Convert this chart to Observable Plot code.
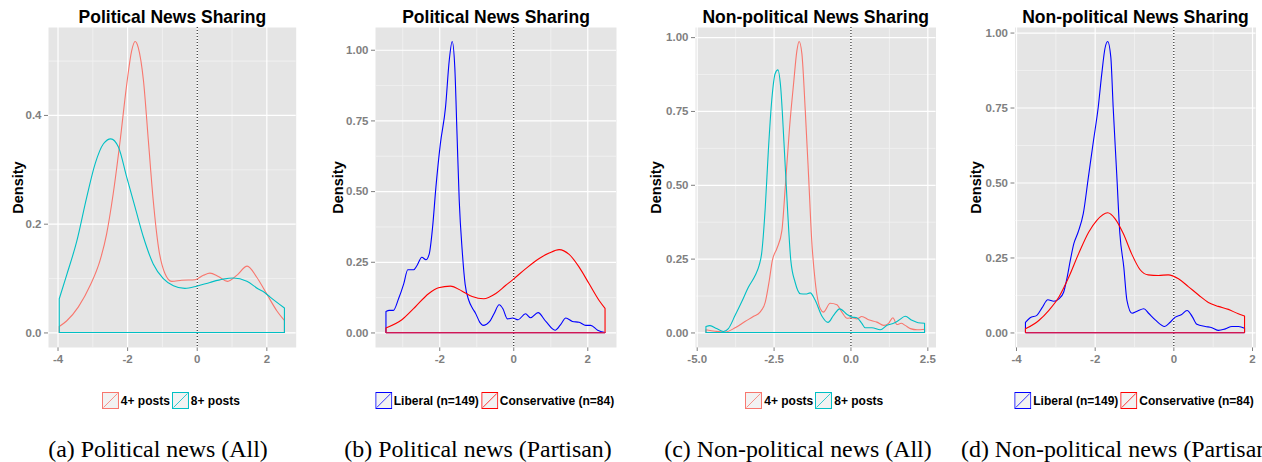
<!DOCTYPE html>
<html>
<head>
<meta charset="utf-8">
<script src="https://cdn.jsdelivr.net/npm/d3@7"></script>
<script src="https://cdn.jsdelivr.net/npm/@observablehq/plot@0.6"></script>
<style>
  html, body { margin: 0; padding: 0; background: #fff; }
  #page { position: relative; width: 1262px; height: 462px; overflow: hidden; background: #fff; }
  .panel { position: absolute; top: 0; }
  .legend { position: absolute; top: 392px; display: flex; align-items: center; transform: translateX(-50%);
            font: bold 12px "Liberation Sans", Arimo, Arial, sans-serif; color: #000; white-space: nowrap; }
  .legend .item { display: flex; align-items: center; margin-right: 2px; }
  .legend svg { display: block; margin-right: 2px; }
  #captions { position: absolute; left: 0; top: 0; }
</style>
</head>
<body>
<div id="page">
  <svg id="captions" width="1262" height="462"></svg>
</div>
<script>
// ---------- data ----------
// (a) Political news, all users
const polAll4X = [-3.95, -3.74, -3.40, -3.05, -2.78, -2.59, -2.40, -2.20, -2.01, -1.87, -1.77, -1.68, -1.53, -1.39, -1.25, -1.10, -0.91, -0.72, -0.43, -0.05, 0.19, 0.38, 0.62, 0.89, 1.15, 1.45, 1.72, 2.01, 2.30, 2.52];
const polAll4Y = [0.011, 0.021, 0.047, 0.088, 0.132, 0.181, 0.255, 0.353, 0.457, 0.518, 0.535, 0.524, 0.463, 0.353, 0.243, 0.157, 0.108, 0.094, 0.096, 0.097, 0.105, 0.109, 0.103, 0.094, 0.105, 0.122, 0.102, 0.071, 0.040, 0.022];
const polAll8X = [-3.95, -3.74, -3.45, -3.16, -2.92, -2.68, -2.47, -2.25, -2.01, -1.77, -1.53, -1.25, -0.96, -0.67, -0.34, 0.00, 0.38, 0.76, 1.05, 1.44, 1.77, 1.94, 2.11, 2.52];
const polAll8Y = [0.062, 0.105, 0.167, 0.249, 0.310, 0.347, 0.356, 0.341, 0.285, 0.230, 0.175, 0.126, 0.099, 0.086, 0.081, 0.085, 0.092, 0.098, 0.100, 0.094, 0.080, 0.074, 0.065, 0.045];

// (b) Political news, partisan users
const polLibX = [-3.44, -3.35, -3.24, -3.10, -2.96, -2.85, -2.69, -2.60, -2.47, -2.36, -2.27, -2.18, -2.09, -1.97, -1.83, -1.73, -1.65, -1.58, -1.52, -1.46, -1.38, -1.30, -1.20, -1.10, -1.02, -0.90, -0.82, -0.62, -0.52, -0.38, -0.28, -0.16, -0.01, 0.13, 0.33, 0.47, 0.67, 0.88, 1.13, 1.28, 1.42, 1.60, 1.78, 1.96, 2.09, 2.28, 2.48];
const polLibY = [0.074, 0.078, 0.078, 0.119, 0.172, 0.222, 0.222, 0.237, 0.266, 0.257, 0.278, 0.372, 0.514, 0.667, 0.797, 0.962, 1.029, 0.938, 0.703, 0.467, 0.290, 0.170, 0.113, 0.085, 0.068, 0.035, 0.025, 0.042, 0.066, 0.098, 0.084, 0.048, 0.051, 0.045, 0.066, 0.052, 0.070, 0.039, 0.008, 0.028, 0.051, 0.039, 0.036, 0.025, 0.025, 0.008, 0.000];
const polConX = [-3.44, -3.01, -2.65, -2.29, -2.02, -1.70, -1.38, -1.11, -0.80, -0.48, -0.21, 0.00, 0.33, 0.69, 0.97, 1.24, 1.51, 1.78, 2.05, 2.32, 2.48];
const polConY = [0.016, 0.045, 0.090, 0.137, 0.158, 0.164, 0.146, 0.127, 0.119, 0.137, 0.166, 0.188, 0.225, 0.261, 0.281, 0.293, 0.276, 0.231, 0.172, 0.113, 0.085];

// (c) Non-political news, all users
const nonAll4X = [-4.70, -4.40, -4.08, -3.75, -3.43, -3.16, -2.94, -2.77, -2.64, -2.54, -2.39, -2.23, -2.12, -1.98, -1.85, -1.74, -1.67, -1.58, -1.47, -1.36, -1.26, -1.15, -0.98, -0.88, -0.66, -0.44, -0.28, -0.11, 0.05, 0.21, 0.37, 0.59, 0.86, 1.08, 1.24, 1.38, 1.51, 1.65, 1.78, 1.95, 2.17, 2.41];
const nonAll4Y = [0.009, 0.004, 0.001, 0.016, 0.037, 0.054, 0.069, 0.103, 0.176, 0.244, 0.285, 0.345, 0.492, 0.695, 0.842, 0.955, 0.985, 0.944, 0.752, 0.526, 0.312, 0.176, 0.080, 0.069, 0.099, 0.094, 0.069, 0.048, 0.050, 0.046, 0.054, 0.043, 0.035, 0.024, 0.031, 0.050, 0.027, 0.031, 0.024, 0.013, 0.009, 0.011];
const nonAll8X = [-4.70, -4.57, -4.35, -4.13, -3.97, -3.75, -3.54, -3.32, -3.10, -2.97, -2.89, -2.77, -2.67, -2.56, -2.45, -2.36, -2.27, -2.16, -2.05, -1.94, -1.80, -1.63, -1.45, -1.31, -1.15, -0.93, -0.73, -0.55, -0.35, -0.11, 0.05, 0.21, 0.37, 0.48, 0.70, 0.97, 1.19, 1.40, 1.57, 1.78, 2.00, 2.20, 2.41];
const nonAll8Y = [0.020, 0.023, 0.013, 0.003, 0.013, 0.058, 0.103, 0.153, 0.193, 0.227, 0.266, 0.424, 0.616, 0.786, 0.876, 0.889, 0.831, 0.639, 0.424, 0.244, 0.170, 0.131, 0.130, 0.134, 0.110, 0.056, 0.034, 0.058, 0.080, 0.061, 0.052, 0.050, 0.031, 0.016, 0.016, 0.009, 0.024, 0.031, 0.041, 0.055, 0.041, 0.033, 0.031];

// (d) Non-political news, partisan users
const nonLibX = [-3.76, -3.64, -3.47, -3.34, -3.19, -3.04, -2.91, -2.79, -2.70, -2.62, -2.53, -2.42, -2.29, -2.16, -2.03, -1.91, -1.82, -1.74, -1.67, -1.59, -1.53, -1.44, -1.36, -1.26, -1.18, -1.05, -0.92, -0.75, -0.63, -0.46, -0.22, -0.08, 0.05, 0.20, 0.35, 0.48, 0.60, 0.81, 0.98, 1.15, 1.32, 1.49, 1.66, 1.81];
const nonLibY = [0.034, 0.049, 0.057, 0.082, 0.109, 0.104, 0.112, 0.134, 0.184, 0.240, 0.296, 0.335, 0.396, 0.518, 0.640, 0.751, 0.862, 0.946, 0.970, 0.918, 0.751, 0.529, 0.330, 0.218, 0.107, 0.064, 0.071, 0.079, 0.064, 0.042, 0.020, 0.034, 0.051, 0.059, 0.073, 0.053, 0.027, 0.020, 0.016, 0.007, 0.012, 0.020, 0.020, 0.014];
const nonConX = [-3.76, -3.42, -3.17, -2.91, -2.66, -2.41, -2.15, -1.95, -1.67, -1.48, -1.27, -1.06, -0.85, -0.64, -0.38, -0.13, 0.13, 0.38, 0.64, 0.89, 1.14, 1.40, 1.65, 1.81];
const nonConY = [0.012, 0.040, 0.073, 0.118, 0.184, 0.262, 0.335, 0.373, 0.399, 0.379, 0.329, 0.262, 0.210, 0.192, 0.190, 0.192, 0.179, 0.153, 0.125, 0.100, 0.087, 0.077, 0.062, 0.055];

// ---------- labels, ticks ----------
const titles = ["Political News Sharing", "Political News Sharing", "Non-political News Sharing", "Non-political News Sharing"];
const captions = ["(a) Political news (All)", "(b) Political news (Partisan)", "(c) Non-political news (All)", "(d) Non-political news (Partisan)"];
const groupAll = ["4+ posts", "8+ posts"];
const groupPartisan = ["Liberal (n=149)", "Conservative (n=84)"];
const colorsAll = ["#F8766D", "#00BFC4"];
const colorsPartisan = ["#0000FF", "#FF0000"];

const xTicksA = [-4, -2, 0, 2],      xMinorA = [-3, -1, 1];
const xTicksB = [-2, 0, 2],          xMinorB = [-3, -1, 1];
const xTicksC = [-5, -2.5, 0, 2.5],  xMinorC = [-3.75, -1.25, 1.25];
const xTicksD = [-4, -2, 0, 2],      xMinorD = [-3, -1, 1];
const yTicksA = [0, 0.2, 0.4],       yMinorA = [0.1, 0.3, 0.5];
const yTicksBCD = [0, 0.25, 0.5, 0.75, 1], yMinorBCD = [0.125, 0.375, 0.625, 0.875];

// ---------- layout ----------
const panels = [
  { svgLeft: 0,   frameLeft: 48,     frameRight: 295.7,  yLabelDx: -30.5, capX: 158,  capAnchor: "middle",
    names: groupAll, colors: colorsAll, series: [[polAll4X, polAll4Y], [polAll8X, polAll8Y]],
    xTicks: xTicksA, xMinor: xMinorA, yTicks: yTicksA, yMinor: yMinorA,
    xFmt: d => String(d), yFmt: d => d.toFixed(1), baseline: null },
  { svgLeft: 315, frameLeft: 375,    frameRight: 616,    yLabelDx: -37.3, capX: 478,  capAnchor: "middle",
    names: groupPartisan, colors: colorsPartisan, series: [[polLibX, polLibY], [polConX, polConY]],
    xTicks: xTicksB, xMinor: xMinorB, yTicks: yTicksBCD, yMinor: yMinorBCD,
    xFmt: d => String(d), yFmt: d => d.toFixed(2), baseline: "#C0206E" },
  { svgLeft: 630, frameLeft: 695,    frameRight: 935.5,  yLabelDx: -38.7, capX: 798,  capAnchor: "middle",
    names: groupAll, colors: colorsAll, series: [[nonAll4X, nonAll4Y], [nonAll8X, nonAll8Y]],
    xTicks: xTicksC, xMinor: xMinorC, yTicks: yTicksBCD, yMinor: yMinorBCD,
    xFmt: d => d.toFixed(1), yFmt: d => d.toFixed(2), baseline: null },
  { svgLeft: 945, frameLeft: 1014.5, frameRight: 1255.5, yLabelDx: -38.7, capX: 961,  capAnchor: "start",
    names: groupPartisan, colors: colorsPartisan, series: [[nonLibX, nonLibY], [nonConX, nonConY]],
    xTicks: xTicksD, xMinor: xMinorD, yTicks: yTicksBCD, yMinor: yMinorBCD,
    xFmt: d => String(d), yFmt: d => d.toFixed(2), baseline: "#C0206E" }
];

const page = document.getElementById("page");
const SANS = '"Liberation Sans", Arimo, Arial, Helvetica, sans-serif';
const MT = 27, FRAME_H = 320, MB = 28;

panels.forEach((p, i) => {
  const allX = p.series.flatMap(s => s[0]);
  const allY = p.series.flatMap(s => s[1]);
  const [x0, x1] = d3.extent(allX);
  const ymax = d3.max(allY);
  const ex = (x1 - x0) * 0.05;
  const xDomain = [x0 - ex, x1 + ex];
  const yDomain = [-0.05 * ymax, 1.05 * ymax];

  const marginLeft = p.frameLeft - p.svgLeft;
  const marginRight = 6;
  const width = p.frameRight - p.svgLeft + marginRight;

  const marks = [
    Plot.frame({ fill: "#E5E5E5", stroke: "none" }),
    Plot.gridX(p.xMinor, { stroke: "#F2F2F2", strokeOpacity: 1, strokeWidth: 0.8 }),
    Plot.gridY(p.yMinor, { stroke: "#F2F2F2", strokeOpacity: 1, strokeWidth: 0.8 }),
    Plot.gridX(p.xTicks, { stroke: "#FFFFFF", strokeOpacity: 1, strokeWidth: 1.2 }),
    Plot.gridY(p.yTicks, { stroke: "#FFFFFF", strokeOpacity: 1, strokeWidth: 1.2 }),
    Plot.ruleX([0], { stroke: "#000", strokeWidth: 1, strokeDasharray: "1,2" })
  ];
  p.series.forEach((s, k) => {
    const data = s[0].map((x, j) => ({ x, y: s[1][j] }));
    marks.push(Plot.areaY(data, { x: "x", y: "y", fill: "none", stroke: p.colors[k], strokeWidth: 1.1, curve: "monotone-x" }));
  });
  if (p.baseline) {
    marks.push(Plot.ruleY([0], { x1: x0, x2: x1, stroke: p.baseline, strokeWidth: 1.2 }));
  }
  marks.push(
    Plot.text([titles[i]], { frameAnchor: "top", textAnchor: "middle", lineAnchor: "bottom", dy: -4.5,
      fontSize: 17.5, fontWeight: "bold", fill: "#000" }),
    Plot.text(["Density"], { frameAnchor: "left", textAnchor: "middle", lineAnchor: "middle", rotate: -90,
      dx: p.yLabelDx, fontSize: 14.5, fontWeight: "bold", fill: "#000" })
  );

  const chart = Plot.plot({
    width, height: MT + FRAME_H + MB,
    marginLeft, marginRight, marginTop: MT, marginBottom: MB,
    style: { fontFamily: SANS, fontSize: "11.5px", fontWeight: "bold", color: "#7F7F7F", background: "none", overflow: "visible" },
    x: { domain: xDomain, ticks: p.xTicks, tickFormat: p.xFmt, tickSize: 4, tickPadding: 3, label: null },
    y: { domain: yDomain, ticks: p.yTicks, tickFormat: p.yFmt, tickSize: 4, tickPadding: 3, label: null },
    marks
  });
  chart.classList.add("panel");
  chart.style.left = p.svgLeft + "px";
  page.appendChild(chart);

  // legend
  const leg = document.createElement("div");
  leg.className = "legend";
  leg.style.left = ((p.frameLeft + p.frameRight) / 2) + "px";
  p.names.forEach((name, k) => {
    const item = document.createElement("div");
    item.className = "item";
    const c = p.colors[k];
    item.innerHTML = `<svg width="17" height="17"><rect x="0.5" y="0.5" width="16" height="16" fill="#F2F2F2" stroke="${c}" stroke-width="1"/><line x1="1.5" y1="15.5" x2="15.5" y2="1.5" stroke="${c}" stroke-width="0.8"/></svg><span>${name}</span>`;
    leg.appendChild(item);
  });
  page.appendChild(leg);

  // caption
  const cap = document.createElementNS("http://www.w3.org/2000/svg", "text");
  cap.setAttribute("x", p.capX);
  cap.setAttribute("y", 457);
  cap.setAttribute("text-anchor", p.capAnchor);
  cap.setAttribute("font-family", '"Liberation Serif", "Times New Roman", Times, serif');
  cap.setAttribute("font-size", "23.9");
  cap.setAttribute("fill", "#000");
  cap.textContent = captions[i];
  document.getElementById("captions").appendChild(cap);
});
</script>
</body>
</html>
